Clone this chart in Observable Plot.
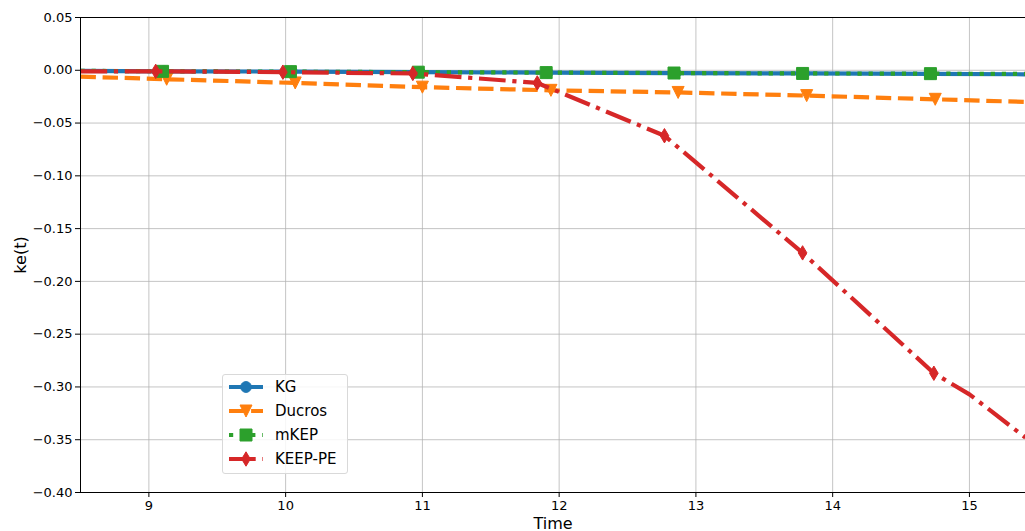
<!DOCTYPE html>
<html>
<head>
<meta charset="utf-8">
<script src="https://cdn.jsdelivr.net/npm/d3@7"></script>
<script src="https://cdn.jsdelivr.net/npm/@observablehq/plot@0.6"></script>
<style>
  html, body { margin: 0; padding: 0; background: #fff; }
  #wrap { position: relative; width: 1025px; height: 531px; font-family: "DejaVu Sans", sans-serif; }
  #legend { position: absolute; left: 222px; top: 374px; width: 124px; height: 98px;
    border: 1px solid #d9d9d9; border-radius: 3px; background: rgba(255,255,255,0.85); }
  .row { position: absolute; left: 0; height: 24px; width: 124px; }
  .row svg { position: absolute; left: 0; top: 0; }
  .row span { position: absolute; left: 52px; top: 2px; font-size: 15px; line-height: 20px; color: #000; }
</style>
</head>
<body>
<div id="wrap"></div>
<script>
// ---- data ----
const seriesNames = ["KG", "Ducros", "mKEP", "KEEP-PE"];
const xTicks = [9, 10, 11, 12, 13, 14, 15];
const yTicks = [0.05, 0.00, -0.05, -0.10, -0.15, -0.20, -0.25, -0.30, -0.35, -0.40];

const kgTime = [8.5, 9.11, 10.045, 10.98, 11.915, 12.85, 13.79, 14.725, 15.41];
const kgVal  = [-0.0005, -0.001, -0.0012, -0.0018, -0.0022, -0.0027, -0.003, -0.0035, -0.0038];

const ducrosTime = [8.5, 9.13, 10.07, 11.0, 11.94, 12.87, 13.81, 14.75, 15.41];
const ducrosVal  = [-0.006, -0.0085, -0.012, -0.016, -0.019, -0.021, -0.024, -0.0275, -0.030];

const mkepTime = [8.5, 9.10, 10.035, 10.97, 11.905, 12.84, 13.78, 14.715, 15.41];
const mkepVal  = [-0.0005, -0.001, -0.0013, -0.0018, -0.0022, -0.0026, -0.003, -0.0032, -0.0035];

const keepTime = [8.5, 9.05, 9.98, 10.93, 11.84, 12.77, 13.78, 14.74, 15.0, 15.41];
const keepVal  = [-0.001, -0.001, -0.0018, -0.003, -0.012, -0.062, -0.173, -0.287, -0.307, -0.348];
const keepMarkers = [1, 2, 3, 4, 5, 6, 7];
const otherMarkers = [1, 2, 3, 4, 5, 6, 7];

// ---- symbols (matplotlib-like) ----
const R = (size) => Math.sqrt(size / Math.PI);
const symCircle = { draw(c, s) { const r = R(s) * 0.9; c.moveTo(r, 0); c.arc(0, 0, r, 0, 2 * Math.PI); } };
const symTriDown = { draw(c, s) { const r = R(s); c.moveTo(-r, -r); c.lineTo(r, -r); c.lineTo(0, r); c.closePath(); } };
const symSquare = { draw(c, s) { const r = R(s); c.rect(-r, -r, 2 * r, 2 * r); } };
const symThinDiamond = { draw(c, s) { const r = R(s) * 1.2; c.moveTo(0, -r); c.lineTo(0.6 * r, 0); c.lineTo(0, r); c.lineTo(-0.6 * r, 0); c.closePath(); } };

const colors = ["#1f77b4", "#ff7f0e", "#2ca02c", "#d62728"];
const dashes = [null, "15.4,6.7", "4.2,6.9", "26.7,6.7,4.2,6.7"];
const symbols = [symCircle, symTriDown, symSquare, symThinDiamond];
const LW = 4.2, MR = 6;

const zip = (t, v) => t.map((x, i) => ({x, y: v[i]}));
const series = [
  {data: zip(kgTime, kgVal), markers: otherMarkers},
  {data: zip(ducrosTime, ducrosVal), markers: otherMarkers},
  {data: zip(mkepTime, mkepVal), markers: otherMarkers},
  {data: zip(keepTime, keepVal), markers: keepMarkers}
];

const marks = [
  Plot.gridX(xTicks, {stroke: "#b0b0b0", strokeOpacity: 0.75, strokeWidth: 1}),
  Plot.gridY(yTicks, {stroke: "#b0b0b0", strokeOpacity: 0.75, strokeWidth: 1})
];
series.forEach((s, k) => {
  marks.push(Plot.line(s.data, {x: "x", y: "y", stroke: colors[k], strokeWidth: LW,
    strokeDasharray: dashes[k] || undefined, strokeLinecap: k === 0 ? "square" : "butt", clip: true}));
  marks.push(Plot.dot(s.markers.map(i => s.data[i]), {x: "x", y: "y", symbol: symbols[k], r: MR,
    fill: colors[k], stroke: colors[k], strokeWidth: 1}));
});
marks.push(
  Plot.frame({stroke: "black", strokeWidth: 1}),
  Plot.axisX(xTicks, {tickSize: 5, tickPadding: 3, label: null, fontSize: 13, tickFormat: d => String(d)}),
  Plot.axisY(yTicks, {tickSize: 5, tickPadding: 3, label: null, fontSize: 13, tickFormat: d3.format(".2f")}),
  Plot.text(["Time"], {frameAnchor: "bottom", lineAnchor: "middle", textAnchor: "middle", dy: 31, fontSize: 16, fill: "black"}),
  Plot.text(["ke(t)"], {frameAnchor: "left", lineAnchor: "middle", textAnchor: "middle", dx: -60, rotate: -90, fontSize: 16, fill: "black"})
);

const chart = Plot.plot({
  width: 1025, height: 531,
  marginTop: 17, marginLeft: 80, marginRight: 0, marginBottom: 39,
  x: {domain: [8.5, 15.41]},
  y: {domain: [-0.40, 0.05]},
  style: {fontFamily: "DejaVu Sans, sans-serif", background: "white", overflow: "visible"},
  marks
});
const wrap = document.getElementById("wrap");
wrap.appendChild(chart);

// ---- legend ----
const legend = document.createElement("div");
legend.id = "legend";
seriesNames.forEach((name, k) => {
  const row = document.createElement("div");
  row.className = "row";
  row.style.top = (k * 24) + "px";
  const p = d3.path();
  symbols[k].draw(p, Math.PI * MR * MR);
  const dash = dashes[k] ? `stroke-dasharray="${dashes[k]}"` : "";
  row.innerHTML = `<svg width="50" height="24">
    <line x1="6" x2="40" y1="12" y2="12" stroke="${colors[k]}" stroke-width="${LW}" ${dash}/>
    <path transform="translate(23,12)" d="${p.toString()}" fill="${colors[k]}" stroke="${colors[k]}" stroke-width="1"/>
  </svg><span>${name}</span>`;
  legend.appendChild(row);
});
wrap.appendChild(legend);
</script>
</body>
</html>
